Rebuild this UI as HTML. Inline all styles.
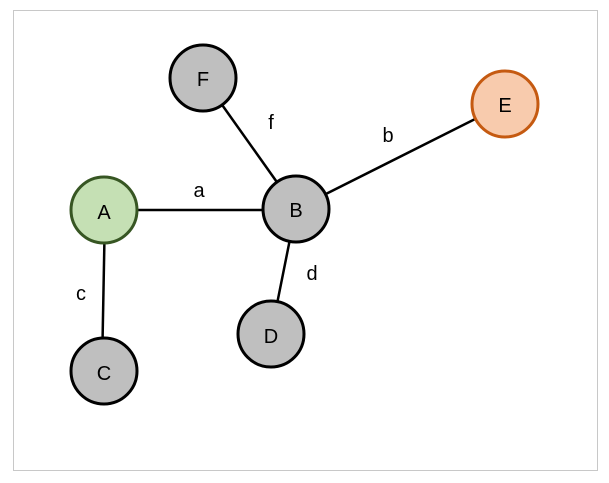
<!DOCTYPE html>
<html><head><meta charset="utf-8"><style>
html,body{margin:0;padding:0;background:#fff;width:609px;height:483px;overflow:hidden}
svg{display:block}
text{font-family:"Liberation Sans",sans-serif;font-size:20px;fill:#000}
</style></head><body>
<svg width="609" height="483" viewBox="0 0 609 483">
<rect x="13.5" y="10.5" width="584" height="460" fill="#fff" stroke="#c8c8c8" stroke-width="1"/>
<g stroke="#000" stroke-width="2.5">
<line x1="104" y1="210" x2="296" y2="210"/>
<line x1="203" y1="78" x2="296" y2="209"/>
<line x1="296" y1="209" x2="505" y2="104"/>
<line x1="296" y1="209" x2="271" y2="334"/>
<line x1="105" y1="210" x2="102" y2="370"/>
</g>
<g stroke-width="3">
<circle cx="203" cy="78" r="33" fill="#bfbfbf" stroke="#000"/>
<circle cx="505" cy="104" r="33" fill="#f8cbad" stroke="#c55a11"/>
<circle cx="104" cy="210" r="33" fill="#c5e0b4" stroke="#375623"/>
<circle cx="296" cy="209" r="33" fill="#bfbfbf" stroke="#000"/>
<circle cx="271" cy="334" r="33" fill="#bfbfbf" stroke="#000"/>
<circle cx="104" cy="371" r="33" fill="#bfbfbf" stroke="#000"/>
</g>
<g text-anchor="middle">
<text x="203" y="86">F</text>
<text x="505" y="112">E</text>
<text x="104" y="219">A</text>
<text x="296" y="217">B</text>
<text x="271" y="343">D</text>
<text x="104" y="380">C</text>
<text x="199" y="197">a</text>
<text x="271" y="129">f</text>
<text x="388" y="142">b</text>
<text x="312" y="280">d</text>
<text x="81" y="300">c</text>
</g>
</svg>
</body></html>
